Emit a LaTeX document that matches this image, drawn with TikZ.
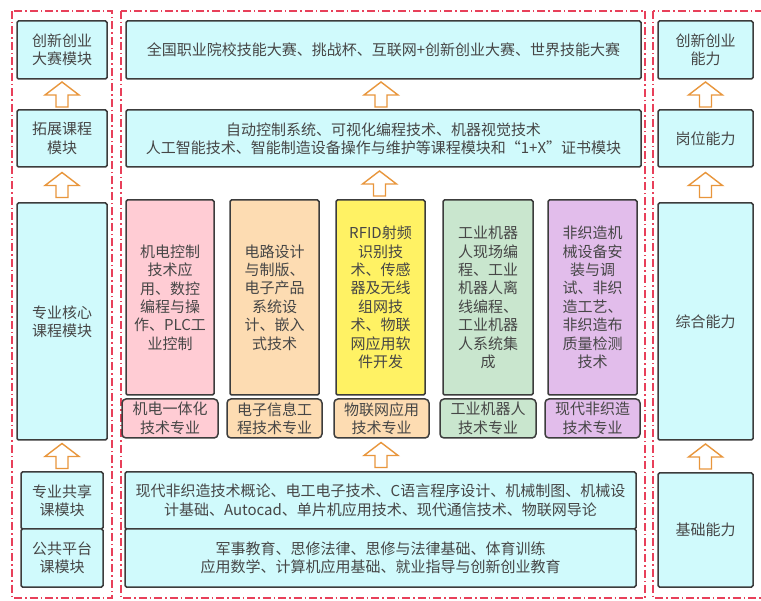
\documentclass[tikz,border=0pt]{standalone}
\usepackage{fontspec}
\setmainfont{Noto Sans CJK SC}
\usetikzlibrary{calc}
\definecolor{cyanfill}{RGB}{208,250,252}
\definecolor{pinkfill}{RGB}{255,204,212}
\definecolor{orangefill}{RGB}{253,220,178}
\definecolor{yellowfill}{RGB}{255,242,100}
\definecolor{greenfill}{RGB}{201,230,206}
\definecolor{purplefill}{RGB}{226,189,235}
\definecolor{boxline}{RGB}{60,60,60}
\definecolor{txt}{RGB}{70,70,70}
\definecolor{framered}{RGB}{232,64,90}
\definecolor{arrorange}{RGB}{232,150,60}
\tikzset{
  box/.style={draw=boxline, line width=1.5pt, fill=cyanfill, inner sep=0pt, outer sep=0pt,
    rounded corners=1.5pt, align=center, text=txt,
    font=\fontsize{15pt}{18.4pt}\selectfont},
  colbox/.style={box},
  lab/.style={box, rounded corners=4pt},
  frame/.style={draw=framered, line width=1.4pt, dash pattern=on 8pt off 3pt on 1.5pt off 3pt},
  uparr/.pic={\draw[draw=arrorange, fill=white, line width=1.4pt, line join=miter]
    (0,-12.5) -- (17,0.5) -- (6,0.5) -- (6,12.5) -- (-6,12.5) -- (-6,0.5) -- (-17,0.5) -- cycle;}
}
\begin{document}
\begin{tikzpicture}[x=1pt,y=-1pt]
\useasboundingbox (0,0) rectangle (761,601);
\fill[white] (0,0) rectangle (761,601);
% frames
\draw[frame] (12,11) rectangle (112,598);
\draw[frame] (121,11) rectangle (645,598);
\draw[frame] (653,11) rectangle (772,598);
% left column
\node[box, minimum width=90pt, minimum height=58pt] (L1) at (62,50) {创新创业\\大赛模块};
\node[box, minimum width=90pt, minimum height=57pt] (L2) at (62,138.5) {拓展课程\\模块};
\node[box, minimum width=90pt, minimum height=237pt] (L3) at (62,321.5) {专业核心\\课程模块};
\node[box, minimum width=82pt, minimum height=57pt] (L4) at (62,500.5) {专业共享\\课模块};
\node[box, minimum width=82pt, minimum height=58pt] (L5) at (62,558) {公共平台\\课模块};
% middle column
\node[box, minimum width=515pt, minimum height=58pt] (M1) at (383.5,50) {全国职业院校技能大赛、挑战杯、互联网+创新创业大赛、世界技能大赛};
\node[box, minimum width=515pt, minimum height=57pt] (M2) at (383.5,138.5) {自动控制系统、可视化编程技术、机器视觉技术\\人工智能技术、智能制造设备操作与维护等课程模块和“1+X”证书模块};
\node[colbox, fill=pinkfill, minimum width=88pt, minimum height=195pt] (C1) at (170,297.5) {机电控制\\技术应\\用、数控\\编程与操\\作、PLC工\\业控制};
\node[colbox, fill=orangefill, minimum width=89pt, minimum height=195pt] (C2) at (274.5,297.5) {电路设计\\与制版、\\电子产品\\系统设\\计、嵌入\\式技术};
\node[colbox, fill=yellowfill, minimum width=89pt, minimum height=195pt] (C3) at (380.5,297.5) {RFID射频\\识别技\\术、传感\\器及无线\\组网技\\术、物联\\网应用软\\件开发};
\node[colbox, fill=greenfill, minimum width=90pt, minimum height=195pt] (C4) at (488,297.5) {工业机器\\人现场编\\程、工业\\机器人离\\线编程、\\工业机器\\人系统集\\成};
\node[colbox, fill=purplefill, minimum width=89pt, minimum height=195pt] (C5) at (592.5,297.5) {非织造机\\械设备安\\装与调\\试、非织\\造工艺、\\非织造布\\质量检测\\技术};
\node[lab, fill=pinkfill, minimum width=96pt, minimum height=39pt] (D1) at (170,418.5) {机电一体化\\技术专业};
\node[lab, fill=orangefill, minimum width=95pt, minimum height=39pt] (D2) at (274.5,418.5) {电子信息工\\程技术专业};
\node[lab, fill=orangefill, minimum width=95pt, minimum height=39pt] (D3) at (381.5,418.5) {物联网应用\\技术专业};
\node[lab, fill=greenfill, minimum width=96pt, minimum height=39pt] (D4) at (488,418.5) {工业机器人\\技术专业};
\node[lab, fill=purplefill, minimum width=95pt, minimum height=39pt] (D5) at (592.5,418.5) {现代非织造\\技术专业};
\node[box, minimum width=511pt, minimum height=57pt] (M3) at (380.5,500.5) {现代非织造技术概论、电工电子技术、C语言程序设计、机械制图、机械设\\计基础、Autocad、单片机应用技术、现代通信技术、物联网导论};
\node[box, minimum width=511pt, minimum height=58pt] (M4) at (380.5,558) {军事教育、思修法律、思修与法律基础、体育训练\\应用数学、计算机应用基础、就业指导与创新创业教育};
% right column
\node[box, minimum width=95pt, minimum height=58pt] (R1) at (705.5,50) {创新创业\\能力};
\node[box, minimum width=95pt, minimum height=57pt] (R2) at (705.5,138.5) {岗位能力};
\node[box, minimum width=95pt, minimum height=237pt] (R3) at (705.5,321.5) {综合能力};
\node[box, minimum width=95pt, minimum height=114pt] (R4) at (705.5,530) {基础能力};
% arrows
\pic at ($(L1.south)!0.5!(L2.north)$) {uparr};
\pic at ($(L2.south)!0.5!(L3.north)$) {uparr};
\pic at ($(L3.south)!0.5!(L4.north)$) {uparr};
\pic at ($(M1.south)!0.5!(M2.north)+(-2.5,0)$) {uparr};
\pic at ($(M2.south)!0.5!(C3.north)+(-2.5,0)$) {uparr};
\pic at ($(D3.south)!0.5!(M3.north)$) {uparr};
\pic at ($(R1.south)!0.5!(R2.north)$) {uparr};
\pic at ($(R2.south)!0.5!(R3.north)$) {uparr};
\pic at ($(R3.south)!0.5!(R4.north)$) {uparr};
\end{tikzpicture}
\end{document}
